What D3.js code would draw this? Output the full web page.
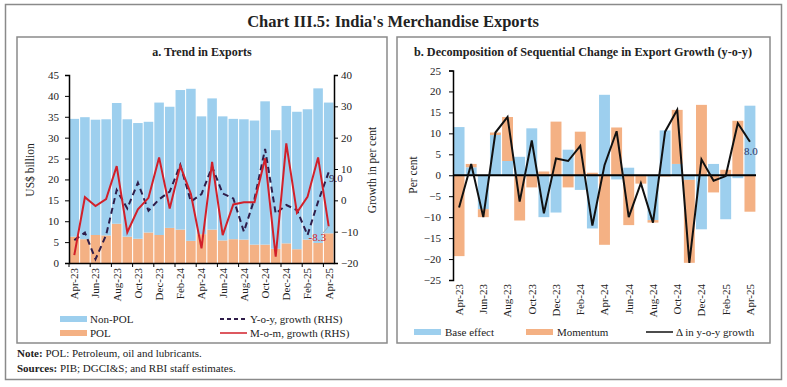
<!DOCTYPE html>
<html>
<head>
<meta charset="utf-8">
<script src="https://cdn.jsdelivr.net/npm/d3@7"></script>
<style>
	body { margin: 0; background: #fff; }
	svg text { font-family: 'Liberation Serif', 'DejaVu Serif', serif; fill: #222; }
</style>
</head>
<body>
<script>
var months = ['Apr-23','May-23','Jun-23','Jul-23','Aug-23','Sep-23','Oct-23','Nov-23','Dec-23','Jan-24','Feb-24','Mar-24',
	'Apr-24','May-24','Jun-24','Jul-24','Aug-24','Sep-24','Oct-24','Nov-24','Dec-24','Jan-25','Feb-25','Mar-25','Apr-25']

// panel a, US$ billion
var pol = [6.3, 5.7, 6.7, 6.6, 9.4, 6.3, 5.8, 7.3, 6.7, 8.4, 8.0, 5.3, 6.9, 8.0, 5.4, 5.7, 5.6, 4.4, 4.4, 3.4, 4.7, 3.3, 5.6, 4.8, 7.1]
var nonPol = [28.2, 29.2, 27.6, 27.8, 28.9, 28.1, 27.7, 26.5, 31.7, 29.0, 33.4, 36.4, 28.2, 31.4, 29.7, 28.8, 28.8, 29.7, 34.3, 28.4, 32.9, 32.9, 31.2, 37.0, 31.3]
// growth, per cent (RHS)
var yoyGrowth = [-12.7, -10.3, -18.8, -11.1, 3.3, -2.6, 5.6, -3.3, 0.3, 2.8, 11.3, -0.4, 2.0, 10.7, 2.2, 0.6, -10.0, 0.5, 16.4, -4.2, -1.5, -3.1, -11.1, -0.4, 9.0]
var momGrowth = [-17.5, 1.0, -1.8, 0.4, 10.9, -10.2, -2.9, 0.8, 13.7, -2.6, 11.0, 2.0, -15.3, 12.3, -11.1, -1.3, -0.6, -0.6, 13.4, -18.0, 18.2, -3.9, 1.1, 13.7, -8.3]

// panel b, per cent
var baseEffect = [11.5, 1.9, -8.1, 9.6, 3.4, 4.4, 11.2, -10.0, -8.9, 6.1, -3.5, -12.7, 19.2, -1.0, 1.8, 0.1, -10.7, 10.7, 2.7, -1.1, -12.9, 2.7, -10.5, -0.7, 16.6]
var momentum = [-19.3, 0.8, -1.9, 0.6, 10.5, -10.8, -2.9, 0.9, 12.8, -2.9, 10.4, 0.6, -16.6, 11.4, -11.9, -2.0, -0.6, -0.3, 12.9, -19.8, 16.8, -4.1, 1.3, 13.0, -8.7]
var yoyChange = [-7.7, 2.7, -10.0, 10.2, 13.9, -6.3, 8.3, -9.1, 4.0, 3.4, 7.0, -12.0, 2.4, 10.5, -10.0, -1.9, -11.3, 10.4, 15.6, -20.9, 3.8, -1.3, -0.2, 12.4, 8.0]

var leftTicks = [0, 5, 10, 15, 20, 25, 30, 35, 40, 45]
var rightTicks = [-20, -10, 0, 10, 20, 30, 40]
var bTicks = [-25, -20, -15, -10, -5, 0, 5, 10, 15, 20, 25]

var blue = '#9dcfee', orange = '#f4b184', red = '#d2202a', purple = '#2f1d4a'

var svg = d3.select('body').append('svg')
	.attr('width', 787)
	.attr('height', 387)

// frames
svg.append('rect').attr('x', 5.5).attr('y', 4.5).attr('width', 776).attr('height', 375)
	.style('fill', 'none').style('stroke', '#8a8a8a').style('stroke-width', 1.5)
svg.append('rect').attr('x', 17).attr('y', 37).attr('width', 370).attr('height', 306)
	.style('fill', 'none').style('stroke', '#8a8a8a').style('stroke-width', 1.5)
svg.append('rect').attr('x', 397).attr('y', 37).attr('width', 373).attr('height', 306)
	.style('fill', 'none').style('stroke', '#8a8a8a').style('stroke-width', 1.5)

svg.append('text').attr('x', 393).attr('y', 27).attr('text-anchor', 'middle')
	.style('font-size', '16.5px').style('font-weight', 'bold')
	.text("Chart III.5: India's Merchandise Exports")

svg.append('text').attr('x', 202).attr('y', 56).attr('text-anchor', 'middle')
	.style('font-size', '12px').style('font-weight', 'bold')
	.text('a. Trend in Exports')
svg.append('text').attr('x', 583).attr('y', 56).attr('text-anchor', 'middle')
	.style('font-size', '12.2px').style('font-weight', 'bold')
	.text('b. Decomposition of Sequential Change in Export Growth (y-o-y)')

// ---------- panel a ----------
var x = d3.scaleBand().domain(months).range([69, 334]).paddingInner(0.1).paddingOuter(0.05)
var yL = d3.scaleLinear().domain([0, 45]).range([263, 75])
var yR = d3.scaleLinear().domain([-20, 40]).range([263, 75])

var rowsA = months.map(function(m, i){ return { month: m, pol: pol[i], nonPol: nonPol[i] } })
var stackA = d3.stack().keys(['pol', 'nonPol'])(rowsA)

svg.append('g').selectAll('g').data(stackA).enter().append('g')
	.style('fill', function(d){ return d.key == 'pol' ? orange : blue })
	.selectAll('rect').data(function(d){ return d }).enter().append('rect')
	.attr('x', function(d){ return x(d.data.month) })
	.attr('width', x.bandwidth())
	.attr('y', function(d){ return yL(d[1]) })
	.attr('height', function(d){ return yL(d[0]) - yL(d[1]) })

var cx = function(d, i){ return x(months[i]) + x.bandwidth() / 2 }

svg.append('path').datum(yoyGrowth)
	.attr('d', d3.line().x(cx).y(function(d){ return yR(d) }))
	.style('fill', 'none').style('stroke', purple).style('stroke-width', 2).style('stroke-dasharray', '6,4')
svg.append('path').datum(momGrowth)
	.attr('d', d3.line().x(cx).y(function(d){ return yR(d) }))
	.style('fill', 'none').style('stroke', red).style('stroke-width', 2)

var axL = svg.append('g').attr('transform', 'translate(69,0)')
	.call(d3.axisLeft(yL).tickValues(leftTicks).tickSize(4).tickPadding(6))
var axR = svg.append('g').attr('transform', 'translate(334,0)')
	.call(d3.axisRight(yR).tickValues(rightTicks).tickSize(4).tickPadding(3))
var labelMonths = months.filter(function(m, i){ return i % 2 == 0 })
var axB = svg.append('g').attr('transform', 'translate(0,263)')
	.call(d3.axisBottom(x).tickValues(labelMonths).tickSize(0))
axB.selectAll('text').attr('transform', 'rotate(-90)').attr('x', -5).attr('y', 0)
	.attr('dy', '0.35em').attr('text-anchor', 'end')

// tick marks on band edges
svg.append('g').selectAll('line').data(labelMonths).enter().append('line')
	.attr('x1', function(d){ return x(d) - x.step() * x.paddingInner() / 2 })
	.attr('x2', function(d){ return x(d) - x.step() * x.paddingInner() / 2 })
	.attr('y1', 263).attr('y2', 267)
	.style('stroke', '#000')

;[axL, axR, axB].forEach(function(a){
	a.selectAll('text').style('font-size', '11px').style('font-family', "'Liberation Serif', serif").style('fill', '#222')
	a.select('.domain').style('stroke', '#000').style('stroke-width', 1.5)
	a.selectAll('.tick line').style('stroke', '#000')
})

svg.append('text').attr('transform', 'translate(34,170) rotate(-90)').attr('text-anchor', 'middle')
	.style('font-size', '11.5px').text('US$ billion')
svg.append('text').attr('transform', 'translate(376,170) rotate(-90)').attr('text-anchor', 'middle')
	.style('font-size', '11.5px').text('Growth in per cent')

// data labels
var last = months.length - 1
svg.append('line').attr('x1', 323).attr('y1', 233).attr('x2', cx(0, last)).attr('y2', yR(momGrowth[last]))
	.style('stroke', '#aaa').style('stroke-width', 1)
svg.append('text').attr('x', 326).attr('y', 241).attr('text-anchor', 'end')
	.style('font-size', '11px').style('fill', red).text(momGrowth[last].toFixed(1))
svg.append('text').attr('x', 329).attr('y', 182)
	.style('font-size', '11px').style('fill', purple).text(yoyGrowth[last].toFixed(1))

// legend a
svg.append('rect').attr('x', 60).attr('y', 316).attr('width', 27).attr('height', 6).style('fill', blue)
svg.append('rect').attr('x', 60).attr('y', 330).attr('width', 27).attr('height', 6).style('fill', orange)
svg.append('text').attr('x', 90).attr('y', 323).style('font-size', '11px').text('Non-POL')
svg.append('text').attr('x', 90).attr('y', 337).style('font-size', '11px').text('POL')
svg.append('line').attr('x1', 220).attr('x2', 247).attr('y1', 319).attr('y2', 319)
	.style('stroke', purple).style('stroke-width', 2).style('stroke-dasharray', '4,3')
svg.append('line').attr('x1', 220).attr('x2', 247).attr('y1', 333).attr('y2', 333)
	.style('stroke', red).style('stroke-width', 1.5)
svg.append('text').attr('x', 250).attr('y', 323).style('font-size', '11px').text('Y-o-y, growth (RHS)')
svg.append('text').attr('x', 250).attr('y', 337).style('font-size', '11px').text('M-o-m, growth (RHS)')

// ---------- panel b ----------
var x2 = d3.scaleBand().domain(months).range([453, 756]).paddingInner(0.1).paddingOuter(0.05)
var y2 = d3.scaleLinear().domain([-25, 25]).range([280, 70.5])

var rowsB = months.map(function(m, i){ return { month: m, base: baseEffect[i], mom: momentum[i] } })
var stackB = d3.stack().keys(['base', 'mom']).offset(d3.stackOffsetDiverging)(rowsB)

svg.append('g').selectAll('g').data(stackB).enter().append('g')
	.style('fill', function(d){ return d.key == 'base' ? blue : orange })
	.selectAll('rect').data(function(d){ return d }).enter().append('rect')
	.attr('x', function(d){ return x2(d.data.month) })
	.attr('width', x2.bandwidth())
	.attr('y', function(d){ return y2(Math.max(d[0], d[1])) })
	.attr('height', function(d){ return Math.abs(y2(d[0]) - y2(d[1])) })

var cx2 = function(d, i){ return x2(months[i]) + x2.bandwidth() / 2 }

svg.append('line').attr('x1', 453).attr('x2', 756).attr('y1', y2(0)).attr('y2', y2(0))
	.style('stroke', '#000').style('stroke-width', 2)

svg.append('path').datum(yoyChange)
	.attr('d', d3.line().x(cx2).y(function(d){ return y2(d) }))
	.style('fill', 'none').style('stroke', '#111').style('stroke-width', 2)

var axB2 = svg.append('g').attr('transform', 'translate(453,0)')
	.call(d3.axisLeft(y2).tickValues(bTicks).tickSize(4).tickPadding(8))
var axX2 = svg.append('g').attr('transform', 'translate(0,280)')
	.call(d3.axisBottom(x2).tickValues(labelMonths).tickSize(0))
axX2.select('.domain').remove()
axX2.selectAll('text').attr('transform', 'rotate(-90)').attr('x', -4).attr('y', 0)
	.attr('dy', '0.35em').attr('text-anchor', 'end')

;[axB2, axX2].forEach(function(a){
	a.selectAll('text').style('font-size', '11px').style('font-family', "'Liberation Serif', serif").style('fill', '#222')
	a.select('.domain').style('stroke', '#000').style('stroke-width', 1.5)
	a.selectAll('.tick line').style('stroke', '#000')
})

svg.append('text').attr('transform', 'translate(417,175) rotate(-90)').attr('text-anchor', 'middle')
	.style('font-size', '11.5px').text('Per cent')

svg.append('text').attr('x', cx2(0, last) - 6).attr('y', y2(yoyChange[last]) + 13)
	.style('font-size', '11px').style('fill', '#2b3566').text(yoyChange[last].toFixed(1))

// legend b
svg.append('rect').attr('x', 414).attr('y', 329).attr('width', 27).attr('height', 6).style('fill', blue)
svg.append('text').attr('x', 445).attr('y', 336).style('font-size', '11px').text('Base effect')
svg.append('rect').attr('x', 526).attr('y', 329).attr('width', 27).attr('height', 6).style('fill', orange)
svg.append('text').attr('x', 557).attr('y', 336).style('font-size', '11px').text('Momentum')
svg.append('line').attr('x1', 646).attr('x2', 673).attr('y1', 332).attr('y2', 332)
	.style('stroke', '#111').style('stroke-width', 1.5)
svg.append('text').attr('x', 676).attr('y', 336).style('font-size', '11px').text('\u0394 in y-o-y growth')

// notes
var note = svg.append('text').attr('x', 17).attr('y', 357).style('font-size', '11px')
note.append('tspan').style('font-weight', 'bold').text('Note: ')
note.append('tspan').text('POL: Petroleum, oil and lubricants.')
var src = svg.append('text').attr('x', 17).attr('y', 372).style('font-size', '11px')
src.append('tspan').style('font-weight', 'bold').text('Sources: ')
src.append('tspan').text('PIB; DGCI&S; and RBI staff estimates.')
</script>
</body>
</html>
